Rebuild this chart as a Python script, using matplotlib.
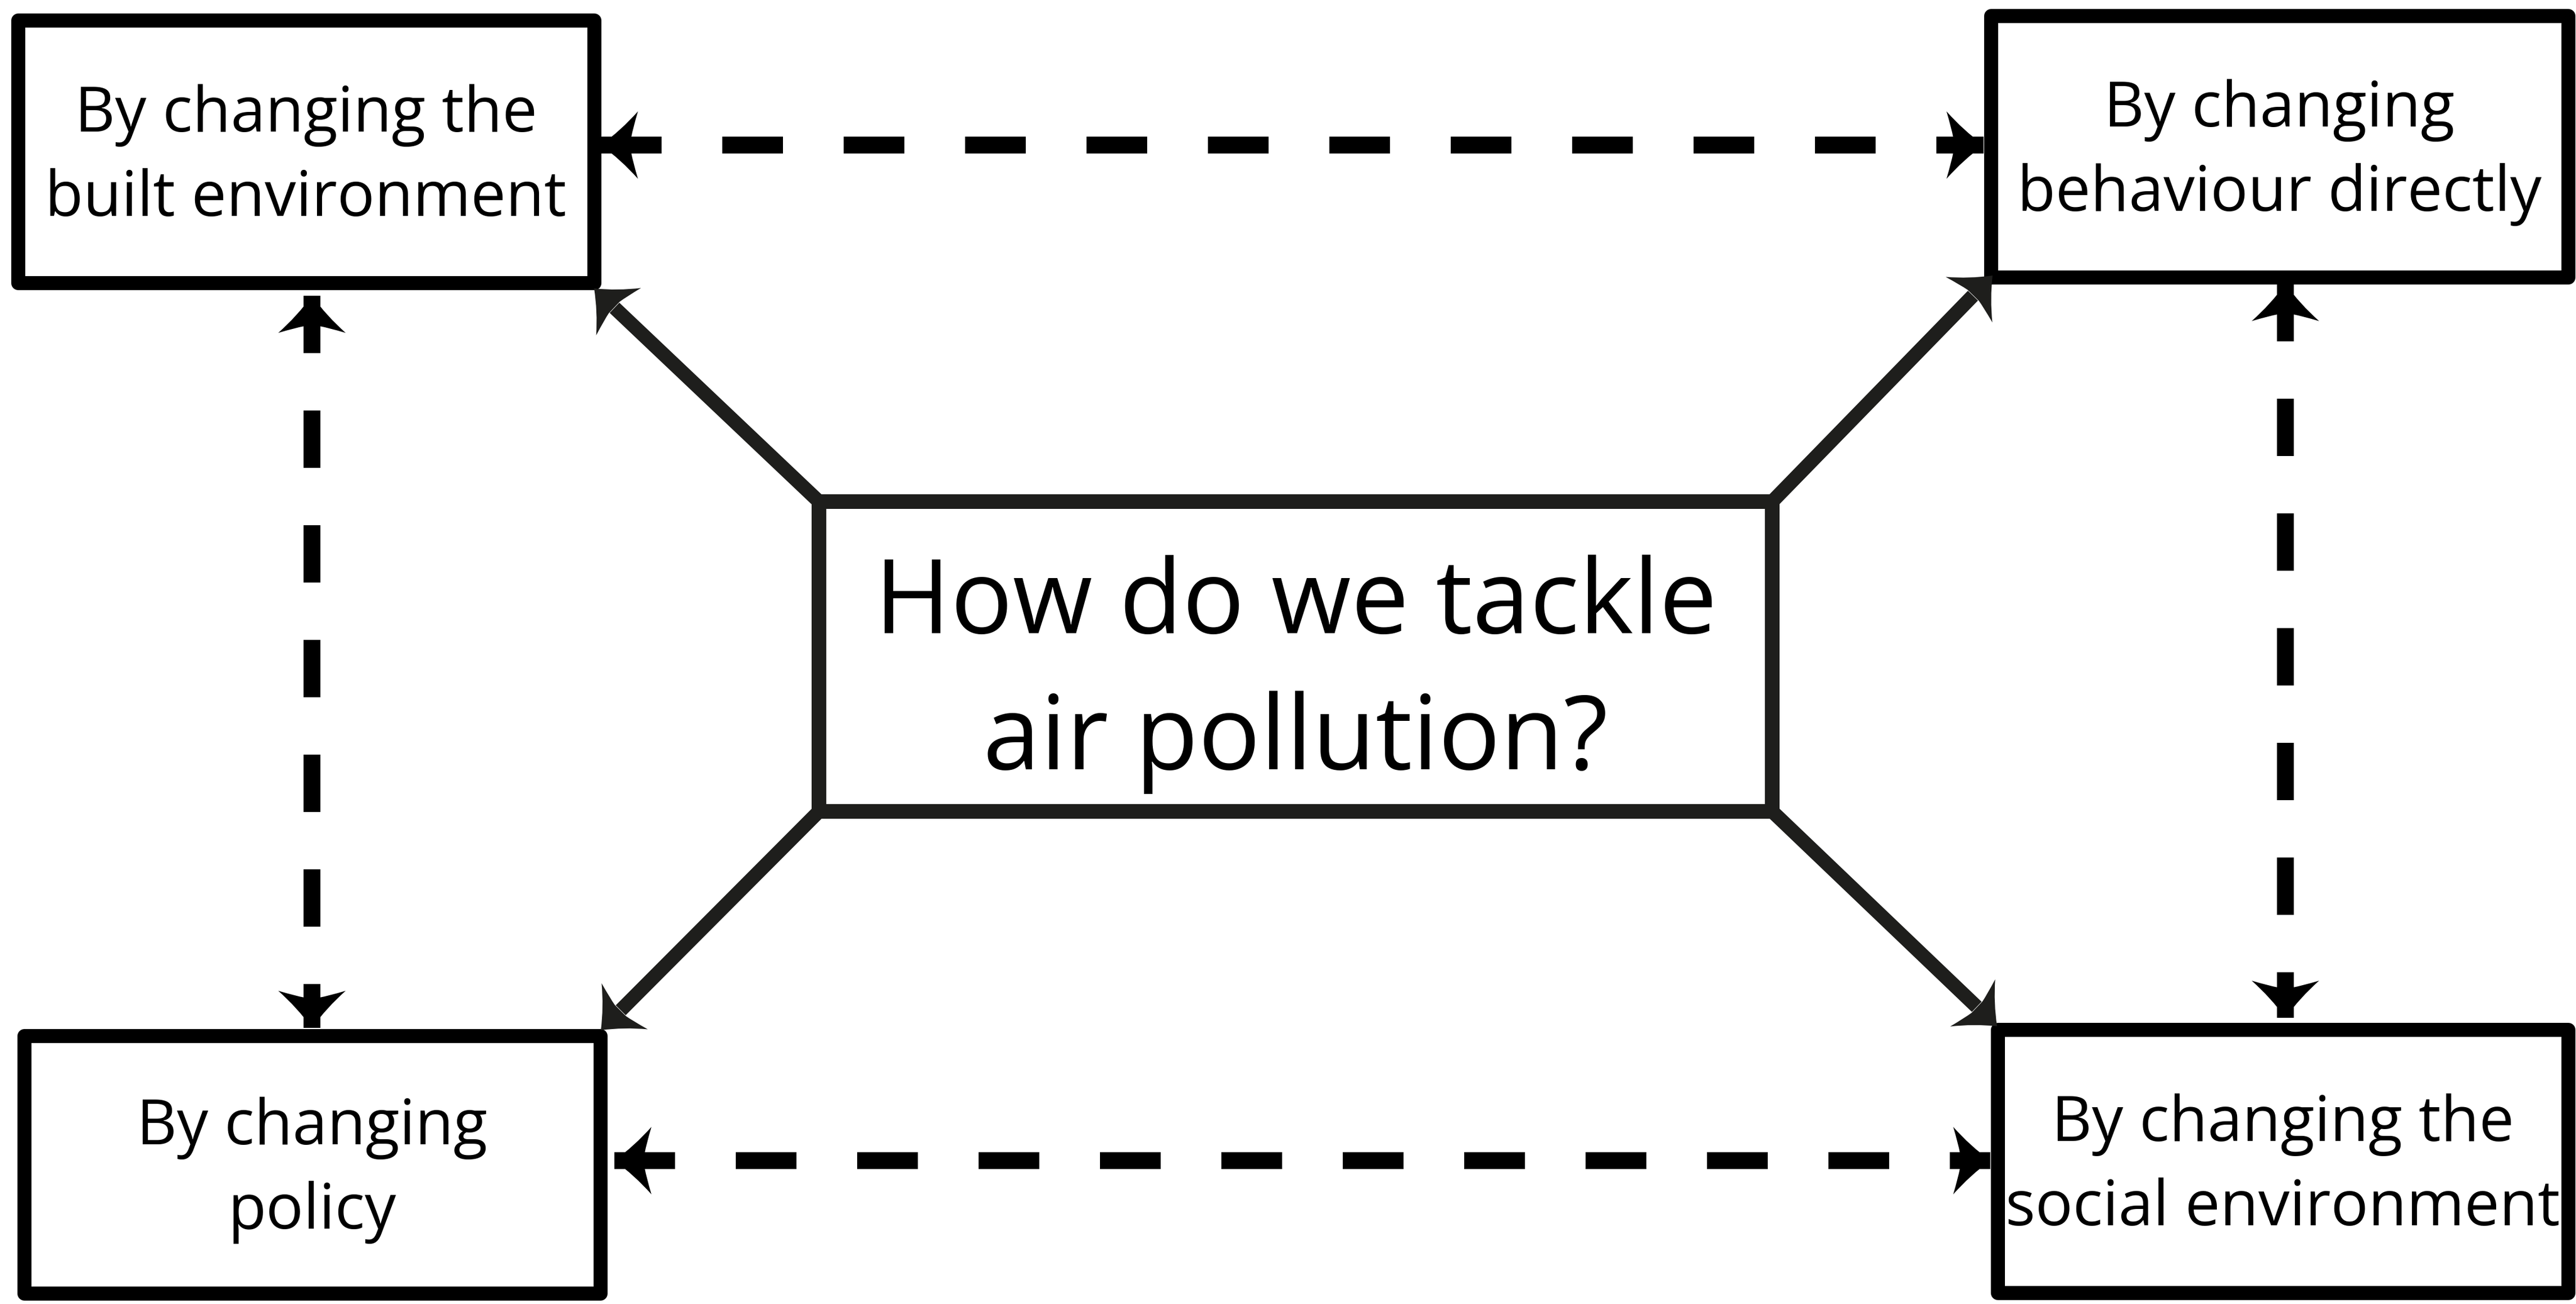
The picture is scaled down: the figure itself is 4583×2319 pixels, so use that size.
import numpy as np
import matplotlib
matplotlib.use("Agg")
import matplotlib.pyplot as plt
from matplotlib.patches import Rectangle, PathPatch
from matplotlib.path import Path
from matplotlib.lines import Line2D

# Text of the diagram
center_label = ["How do we tackle", "air pollution?"]
corner_labels = {
    "tl": ["By changing the", "built environment"],
    "tr": ["By changing", "behaviour directly"],
    "bl": ["By changing", "policy"],
    "br": ["By changing the", "social environment"],
}

# Layout in pixels (outer edges: x0, y0, x1, y1), y grows downwards
W, H = 4583, 2319
corner_boxes = {
    "tl": (19, 23, 1069, 515),
    "tr": (3529, 15, 4581, 505),
    "bl": (30, 1829, 1080, 2312),
    "br": (3541, 1818, 4581, 2311),
}
center_box = (1444, 879, 3166, 1456)

# dashed double-headed links (start tip, end tip)
dashed_links = [
    ((1069, 258), (3529, 258)),
    ((1093, 2064), (3541, 2064)),
    ((555, 526), (555, 1828)),
    ((4066, 505), (4066, 1810)),
]
# solid arrows from centre box corners to corner boxes
solid_links = [
    ((1457, 892), (1057, 513)),
    ((3153, 892), (3545, 490)),
    ((3153, 1443), (3553, 1825)),
    ((1457, 1443), (1069, 1832)),
]

BOX_LW = 25      # px
CENTER_LW = 26
DASH_LW = 30
DIAG_LW = 25
DARK = "#1e1e1c"

px = 72 / 100  # px -> pt at dpi 100

fig = plt.figure(figsize=(W / 100, H / 100), dpi=100)
ax = fig.add_axes([0, 0, 1, 1])
ax.set_xlim(0, W)
ax.set_ylim(H, 0)
ax.axis("off")

font = "Open Sans"


def arrow_head(tip, direction, color, L=66, Wd=120, shaft=28):
    d = np.array(direction, float)
    d /= np.linalg.norm(d)
    n = np.array([-d[1], d[0]])
    tip = np.array(tip, float)

    def p(x, y):
        return tip + x * d + y * n

    verts = [p(0, 0),
             p(-0.55 * L, 0.22 * Wd), p(-L, 0.5 * Wd),
             p(-0.86 * L, 0.24 * Wd), p(-0.82 * L, shaft / 2),
             p(-0.82 * L, -shaft / 2),
             p(-0.86 * L, -0.24 * Wd), p(-L, -0.5 * Wd),
             p(-0.55 * L, -0.22 * Wd), p(0, 0),
             p(0, 0)]
    codes = [Path.MOVETO,
             Path.CURVE3, Path.CURVE3,
             Path.CURVE3, Path.CURVE3,
             Path.LINETO,
             Path.CURVE3, Path.CURVE3,
             Path.CURVE3, Path.CURVE3,
             Path.CLOSEPOLY]
    ax.add_patch(PathPatch(Path(verts, codes), facecolor=color,
                           edgecolor="none", zorder=5))


# dashed links
for (a, b) in dashed_links:
    a = np.array(a, float)
    b = np.array(b, float)
    length = np.linalg.norm(b - a)
    on = 108 if abs(a[1] - b[1]) < 1 else 102
    ln = Line2D([a[0], b[0]], [a[1], b[1]], color="black",
                linewidth=DASH_LW * px, solid_capstyle="butt",
                dash_capstyle="butt", zorder=3)
    ln.set_dashes((on * px / (DASH_LW * px), on * px / (DASH_LW * px)))
    ax.add_line(ln)
    arrow_head(a, a - b, "black")
    arrow_head(b, b - a, "black")

# solid diagonal arrows
for (a, b) in solid_links:
    a = np.array(a, float)
    b = np.array(b, float)
    d = (b - a) / np.linalg.norm(b - a)
    end = b - d * 50
    ax.plot([a[0], end[0]], [a[1], end[1]], color=DARK,
            linewidth=DIAG_LW * px, solid_capstyle="butt", zorder=2)
    arrow_head(b, d, DARK, L=60, Wd=116)

# corner boxes
for key, (x0, y0, x1, y1) in corner_boxes.items():
    h = BOX_LW / 2
    r = Rectangle((x0 + h, y0 + h), x1 - x0 - BOX_LW, y1 - y0 - BOX_LW,
                  facecolor="white", edgecolor="black",
                  linewidth=BOX_LW * px, joinstyle="round", zorder=4)
    ax.add_patch(r)
    cx = (x0 + x1) / 2
    cy = (y0 + y1) / 2
    lines = corner_labels[key]
    for i, txt in enumerate(lines):
        ax.text(cx, cy - 35 + 150 * i, txt, ha="center", va="baseline",
                fontsize=80, family=font, color="black", zorder=6)

# centre box
x0, y0, x1, y1 = center_box
h = CENTER_LW / 2
ax.add_patch(Rectangle((x0 + h, y0 + h), x1 - x0 - CENTER_LW, y1 - y0 - CENTER_LW,
                       facecolor="white", edgecolor=DARK,
                       linewidth=CENTER_LW * px, joinstyle="miter", zorder=4))
cx = (x0 + x1) / 2
cy = (y0 + y1) / 2
for i, txt in enumerate(center_label):
    ax.text(cx, cy - 42 + 243 * i, txt, ha="center", va="baseline",
            fontsize=132, family=font, color="black", zorder=6)

fig.savefig("out.png", dpi=100, facecolor="white")
